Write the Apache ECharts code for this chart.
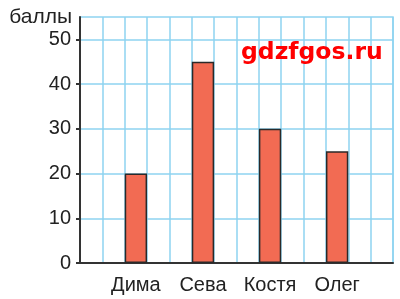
<!DOCTYPE html>
<html>
<head>
<meta charset="utf-8">
<script src="https://cdn.jsdelivr.net/npm/echarts@6/dist/echarts.min.js"></script>
<style>html,body{margin:0;padding:0;background:#fff;}#c{width:400px;height:299px;}</style>
</head>
<body>
<div id="c"></div>
<script>
var names = ['Дима', 'Сева', 'Костя', 'Олег'];
var scores = [20, 45, 30, 25];
var yTicks = [0, 10, 20, 30, 40, 50];
var yName = 'баллы';
var watermark = 'gdzfgos.ru';

// grid of 14 square cells; each name sits in a cell, 3 cells apart starting from cell 2
var slotCount = 14, firstSlot = 2, step = 3;
var slotNames = [], slotValues = [];
for (var s = 0; s < slotCount; s++) { slotNames.push(''); slotValues.push('-'); }
names.forEach(function (n, i) {
  slotNames[firstSlot + i * step] = n;
  slotValues[firstSlot + i * step] = scores[i];
});

var gridColor = '#8ed3f1';
var axisColor = '#333';
var chart = echarts.init(document.getElementById('c'), null, { renderer: 'canvas' });
chart.setOption({
  animation: false,
  grid: { left: 80, right: 7, top: 17, bottom: 36, containLabel: false,
          show: true, borderColor: gridColor, borderWidth: 1.5, backgroundColor: 'transparent' },
  xAxis: {
    type: 'category',
    data: slotNames,
    boundaryGap: true,
    axisLine: { show: true, lineStyle: { color: axisColor, width: 2 } },
    axisTick: { show: false },
    axisLabel: { interval: 0, color: '#222', fontFamily: 'Liberation Sans', fontSize: 20, margin: 12 },
    splitLine: { show: true, interval: 0, lineStyle: { color: gridColor, width: 1.5 } }
  },
  yAxis: {
    type: 'value',
    min: 0, max: 55, interval: 5,
    name: yName,
    nameLocation: 'end',
    nameGap: 0,
    nameTextStyle: { color: '#222', fontFamily: 'Liberation Sans', fontSize: 21, align: 'right', verticalAlign: 'middle', padding: [0, 8, 0, 0] },
    axisLine: { show: true, lineStyle: { color: axisColor, width: 2 } },
    axisTick: { show: true, customValues: yTicks, length: 4, lineStyle: { color: axisColor, width: 2 } },
    axisLabel: { customValues: yTicks, color: '#222', fontFamily: 'Liberation Sans', fontSize: 20, margin: 9 },
    splitLine: { show: true, lineStyle: { color: gridColor, width: 1.5 } }
  },
  graphic: [{
    type: 'text',
    left: 241, top: 41,
    style: { text: watermark, fill: '#ff0000', font: 'bold 23.5px "DejaVu Sans"' },
    z: 100
  }],
  series: [{
    type: 'bar',
    data: slotValues,
    barWidth: '100%',
    itemStyle: { color: '#f26b53', borderColor: '#2a2a2a', borderWidth: 1.5 }
  }]
});
</script>
</body>
</html>
